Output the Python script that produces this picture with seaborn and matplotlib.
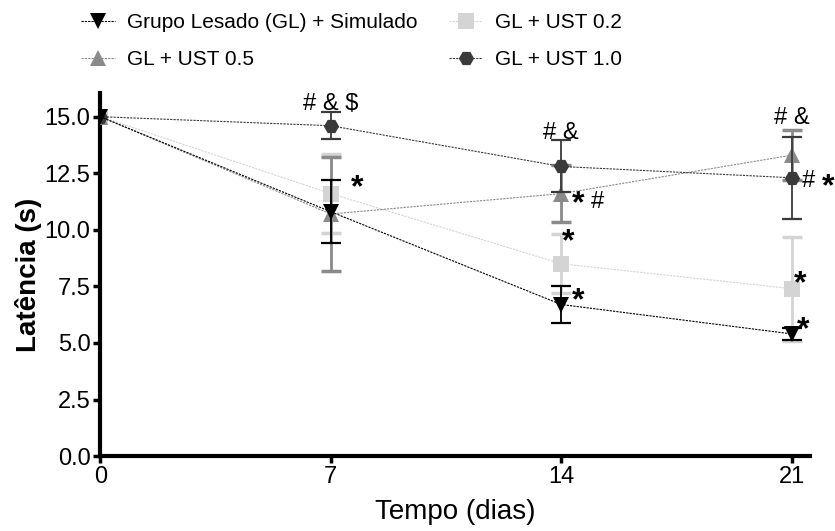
import matplotlib
matplotlib.use("Agg")
import matplotlib.pyplot as plt
import seaborn as sns
import pandas as pd
import numpy as np

sns.set_style("ticks")
plt.rcParams['font.family'] = ['Liberation Sans', 'DejaVu Sans']
plt.rcParams['text.color'] = 'black'
plt.rcParams['axes.labelcolor'] = 'black'
plt.rcParams['xtick.color'] = 'black'
plt.rcParams['ytick.color'] = 'black'
plt.rcParams['axes.edgecolor'] = 'black'

days = [0, 7, 14, 21]
series_names = ["Grupo Lesado (GL) + Simulado", "GL + UST 0.5", "GL + UST 0.2", "GL + UST 1.0"]
sim_mean = [15.0, 10.8, 6.7, 5.4]
sim_err = [0.0, 1.4, 0.8, 0.25]
u05_mean = [15.0, 10.7, 11.6, 13.3]
u05_err = [0.0, 2.5, 1.25, 1.1]
u02_mean = [15.0, 11.6, 8.5, 7.4]
u02_err = [0.0, 1.75, 1.3, 2.3]
u10_mean = [15.0, 14.6, 12.8, 12.3]
u10_err = [0.0, 0.6, 1.15, 1.8]

means = [sim_mean, u05_mean, u02_mean, u10_mean]
errs = [sim_err, u05_err, u02_err, u10_err]
colors = ["#000000", "#8a8a8a", "#d4d4d4", "#3a3a3a"]
markers = ["v", "^", "s", "H"]
zorders = [6, 4, 3, 5]

sym_labels = [
    (7, 15.55, "# & $"),
    (14, 14.3, "# &"), (15.1, 11.25, "#"),
    (21, 14.95, "# &"), (21.5, 12.15, "#"),
]
star_labels = [
    (7.8, 11.85), (14.5, 11.15), (14.2, 9.45), (14.5, 6.85),
    (22.1, 11.9), (21.25, 7.6), (21.35, 5.55),
]

fig = plt.figure(figsize=(8.35, 5.31), dpi=100)
ax = fig.add_axes([0.12, 0.141, 0.85, 0.684])

frames = []
for name, m in zip(series_names, means):
    frames.append(pd.DataFrame({"Tempo": days, "Lat": m, "Grupo": name}))
df = pd.concat(frames, ignore_index=True)

handles = []
for name, m, e, c, mk, z in zip(series_names, means, errs, colors, markers, zorders):
    sub = df[df["Grupo"] == name]
    sns.lineplot(data=sub, x="Tempo", y="Lat", ax=ax, color=c, marker=mk,
                 markersize=11, markeredgewidth=0, linestyle=(0, (2, 1)),
                 linewidth=0.8, label=name, zorder=z, legend=False)
    ax.errorbar(days[1:], m[1:], yerr=e[1:], fmt="none", ecolor=c,
                elinewidth=1.3 if c in ("#000000", "#3a3a3a") else 2.0,
                capsize=7, capthick=1.6 if c in ("#000000", "#3a3a3a") else 2.5,
                zorder=z - 0.5)
    h, = ax.plot([], [], color=c, marker=mk, markersize=11, markeredgewidth=0,
                 linestyle=(0, (2, 1)), linewidth=0.8)
    handles.append(h)

for x, y, t in sym_labels:
    ax.text(x, y, t, ha="center", va="center", fontsize=17, color="black")
for x, y in star_labels:
    ax.text(x, y, "*", ha="center", va="center", fontsize=23, fontweight="bold", color="black")

ax.set_xlim(0, 21.55)
ax.set_ylim(0, 16.05)
ax.set_xticks(days)
ax.set_yticks([0, 2.5, 5, 7.5, 10, 12.5, 15])
ax.set_yticklabels(["0.0", "2.5", "5.0", "7.5", "10.0", "12.5", "15.0"])
ax.tick_params(labelsize=17, width=2.5, length=5, direction="out", pad=2)
for s in ["top", "right"]:
    ax.spines[s].set_visible(False)
for s in ["left", "bottom"]:
    ax.spines[s].set_linewidth(3)
ax.set_xlabel("Tempo (dias)", fontsize=20, labelpad=8)
ax.set_ylabel("Latência (s)", fontsize=20, fontweight="bold", labelpad=2)

fig.legend(handles, series_names, ncol=2, loc="upper left", bbox_to_anchor=(0.075, 1.01),
           frameon=False, fontsize=15, handlelength=1.6, columnspacing=1.5,
           labelspacing=0.85, handletextpad=0.6)

fig.savefig("out.png", dpi=100)
